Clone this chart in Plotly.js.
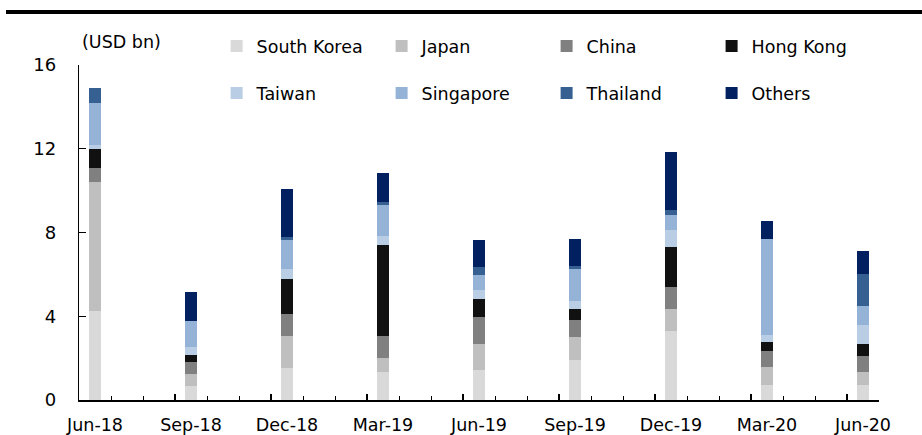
<!DOCTYPE html>
<html>
<head>
<meta charset="utf-8">
<script src="https://cdn.plot.ly/plotly-3.0.1.min.js"></script>
<style>html,body{margin:0;padding:0;background:#fff;}#chart{width:922px;height:435px;}</style>
</head>
<body>
<div id="chart"></div>
<script>
// Monthly category axis (Jun-18 .. Jun-20); data only at quarter ends
const months = ["Jun-18","Jul-18","Aug-18","Sep-18","Oct-18","Nov-18","Dec-18","Jan-19","Feb-19","Mar-19","Apr-19","May-19","Jun-19","Jul-19","Aug-19","Sep-19","Oct-19","Nov-19","Dec-19","Jan-20","Feb-20","Mar-20","Apr-20","May-20","Jun-20"];
const quarters = ["Jun-18","Sep-18","Dec-18","Mar-19","Jun-19","Sep-19","Dec-19","Mar-20","Jun-20"];

const southKorea = [4.23, 0.66, 1.54, 1.33, 1.42, 1.90, 3.31, 0.71, 0.74];
const japan      = [6.16, 0.60, 1.50, 0.70, 1.26, 1.11, 1.05, 0.85, 0.59];
const china      = [0.68, 0.54, 1.08, 1.01, 1.29, 0.80, 1.02, 0.80, 0.76];
const hongKong   = [0.91, 0.37, 1.67, 4.38, 0.87, 0.55, 1.95, 0.40, 0.59];
const taiwan     = [0.20, 0.35, 0.48, 0.42, 0.43, 0.35, 0.80, 0.36, 0.92];
const singapore  = [1.99, 1.24, 1.38, 1.45, 0.71, 1.56, 0.70, 4.57, 0.91];
const thailand   = [0.72, -0.10, 0.13, 0.19, 0.35, 0.14, 0.25, 0.00, 1.53];
const others     = [-0.10, 1.40, 2.31, 1.35, 1.32, 1.28, 2.78, 0.87, 1.09];

const seriesNames  = ["South Korea","Japan","China","Hong Kong","Taiwan","Singapore","Thailand","Others"];
const seriesValues = [southKorea, japan, china, hongKong, taiwan, singapore, thailand, others];
const seriesColors = ["#d9d9d9","#bfbfbf","#808080","#111111","#b9cde5","#95b3d7","#376092","#002060"];

const yTicks = [0, 4, 8, 12, 16];

const xIdx = quarters.map(q => months.indexOf(q));
const labelIdx = months.map((m, i) => i).filter(i => i % 3 === 0);
const majorTickVals = labelIdx.map(i => i - 0.5);
const majorTickText = labelIdx.map(i => months[i]);

const FONT = "DejaVu Sans, Verdana, sans-serif";

const traces = seriesNames.map((name, k) => ({
  type: "bar",
  name: name,
  x: xIdx,
  y: seriesValues[k],
  width: 0.4,
  marker: {color: seriesColors[k], line: {width: 0}},
  legend: k < 4 ? "legend" : "legend2",
  hoverinfo: "name+y"
}));

const legendCommon = {
  orientation: "h",
  xanchor: "left",
  yanchor: "middle",
  x: 0.172,
  entrywidth: 120,
  entrywidthmode: "pixels",
  itemwidth: 30,
  bgcolor: "rgba(0,0,0,0)",
  font: {family: FONT, size: 17.5, color: "#000"},
  traceorder: "normal",
  itemclick: false,
  itemdoubleclick: false
};

const layout = {
  width: 922,
  height: 435,
  margin: {l: 79, r: 43, t: 65, b: 35, pad: 0},
  paper_bgcolor: "#fff",
  plot_bgcolor: "#fff",
  barmode: "relative",
  bargap: 0,
  showlegend: true,
  font: {family: FONT, size: 17.5, color: "#000"},
  legend: Object.assign({}, legendCommon, {y: 1.0567}),
  legend2: Object.assign({}, legendCommon, {y: 0.9164}),
  xaxis: {
    type: "linear",
    range: [-0.5, 24.5],
    tickmode: "array",
    tickvals: majorTickVals,
    ticktext: majorTickText,
    ticks: "inside",
    ticklen: 6,
    tickwidth: 1.2,
    tickcolor: "#000",
    ticklabelshift: 16,
    ticklabelstandoff: 8,
    minor: {tickmode: "linear", tick0: -0.5, dtick: 1, ticks: "inside", ticklen: 4, tickwidth: 1, tickcolor: "#000", showgrid: false},
    showline: true,
    linecolor: "#000",
    linewidth: 1.5,
    showgrid: false,
    zeroline: false,
    fixedrange: true,
    tickfont: {family: FONT, size: 17.5, color: "#000"}
  },
  yaxis: {
    range: [0, 16],
    tickmode: "array",
    tickvals: yTicks,
    ticktext: yTicks.map(String),
    ticks: "inside",
    ticklen: 7,
    tickwidth: 1.2,
    tickcolor: "#000",
    ticklabelstandoff: 18,
    showline: true,
    linecolor: "#000",
    linewidth: 1.3,
    showgrid: false,
    zeroline: false,
    fixedrange: true,
    tickfont: {family: FONT, size: 18, color: "#000"}
  },
  annotations: [{
    text: "(USD bn)",
    xref: "paper", yref: "paper",
    x: 0.001, y: 1.0687,
    xanchor: "left", yanchor: "middle",
    showarrow: false,
    font: {family: FONT, size: 17.5, color: "#000"}
  }],
  shapes: [{
    type: "line",
    xref: "paper", yref: "paper",
    x0: -0.09125, x1: 1.06, y0: 1.158, y1: 1.158,
    line: {color: "#000", width: 4}
  }]
};

Plotly.newPlot("chart", traces, layout, {displayModeBar: false, staticPlot: true});
</script>
</body>
</html>
